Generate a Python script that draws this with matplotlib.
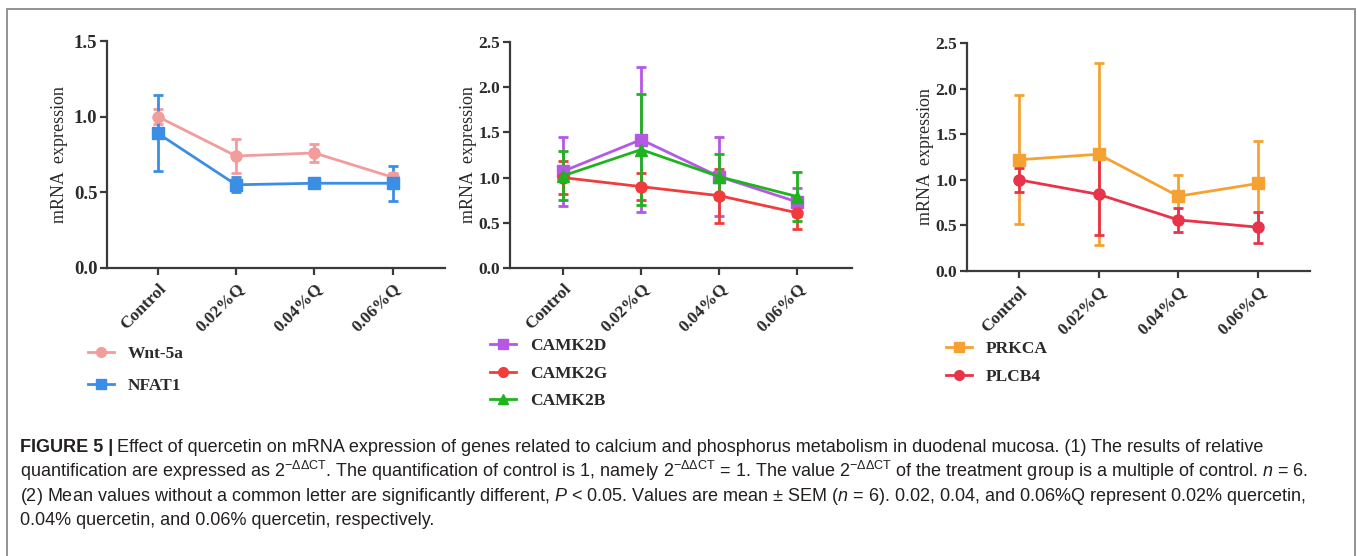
import matplotlib
matplotlib.use("Agg")
import matplotlib.pyplot as plt
from matplotlib import font_manager
from matplotlib.patches import Rectangle
from matplotlib.lines import Line2D

installed = {f.name for f in font_manager.fontManager.ttflist}
cap_font = 'Liberation Sans Narrow' if 'Liberation Sans Narrow' in installed else 'Liberation Sans'

plt.rcParams['mathtext.fontset'] = 'custom'
plt.rcParams['mathtext.rm'] = cap_font
plt.rcParams['mathtext.it'] = cap_font + ':italic'
plt.rcParams['mathtext.bf'] = cap_font + ':bold'

groups = ['Control', '0.02%Q', '0.04%Q', '0.06%Q']

# panel 1
wnt5a = [1.00, 0.74, 0.76, 0.60]
wnt5a_err = [0.05, 0.11, 0.06, 0.03]
nfat1 = [0.89, 0.55, 0.56, 0.56]
nfat1_err = [0.25, 0.05, 0.02, 0.115]

# panel 2
camk2d = [1.07, 1.42, 1.01, 0.73]
camk2d_err = [0.38, 0.80, 0.44, 0.15]
camk2g = [1.00, 0.90, 0.80, 0.61]
camk2g_err = [0.18, 0.15, 0.30, 0.18]
camk2b = [1.02, 1.31, 1.01, 0.79]
camk2b_err = [0.27, 0.61, 0.25, 0.27]

# panel 3
prkca = [1.22, 1.28, 0.82, 0.96]
prkca_err = [0.71, 1.00, 0.23, 0.47]
plcb4 = [1.00, 0.84, 0.56, 0.48]
plcb4_err = [0.13, 0.44, 0.13, 0.17]

W, H = 1357, 556
fig = plt.figure(figsize=(W / 100, H / 100), dpi=100)
fig.patch.set_facecolor('white')

serif = ['Liberation Serif', 'DejaVu Serif']
axcol = '#3a3a3a'
txtcol = '#2a2a2a'


def px_axes(left, right, top, bottom):
    return fig.add_axes([left / W, 1 - bottom / H, (right - left) / W, (bottom - top) / H])


def style(ax, ymax, xlim, yfs, lpad):
    ax.set_ylim(0, ymax)
    ax.set_xlim(*xlim)
    for s in ['top', 'right']:
        ax.spines[s].set_visible(False)
    for s in ['left', 'bottom']:
        ax.spines[s].set_linewidth(1.6)
        ax.spines[s].set_color(axcol)
    ax.set_yticks([0, 0.5, 1.0, 1.5, 2.0, 2.5][:int(ymax / 0.5) + 1])
    ax.set_yticklabels([f'{v:.1f}' for v in ax.get_yticks()], fontfamily=serif,
                       fontsize=yfs, fontweight='bold', color=txtcol)
    ax.set_xticks(range(len(groups)))
    ax.set_xticklabels(groups, rotation=45, ha='right', rotation_mode='anchor',
                       fontfamily=serif, fontsize=12.5, fontweight='bold', color=txtcol)
    ax.tick_params(axis='both', direction='out', length=5, width=1.6, color=axcol, pad=2)
    ax.tick_params(axis='x', pad=4)
    ax.set_ylabel('mRNA  expression', fontfamily=serif, fontsize=13, color=txtcol, labelpad=lpad)
    ax.patch.set_alpha(0)


def series(ax, vals, errs, color, marker, ms=8):
    ax.errorbar(range(len(groups)), vals, yerr=errs, color=color, marker=marker,
                markersize=ms, linewidth=2, elinewidth=2, capsize=3.6, capthick=2)


def legend(ax, items, x, y, spacing):
    handles = [Line2D([], [], color=c, marker=m, markersize=7, linewidth=2) for c, m, _ in items]
    labels = [t for _, _, t in items]
    ax.legend(handles, labels, loc='upper left', bbox_to_anchor=(x / W, 1 - y / H),
              bbox_transform=fig.transFigure, frameon=False,
              prop={'family': serif, 'size': 12.5, 'weight': 'bold'}, handlelength=1.5,
              handletextpad=0.8, labelspacing=spacing, borderpad=0, borderaxespad=0,
              labelcolor=txtcol)


c_wnt, c_nfat = '#f29c9c', '#3b8ee6'
c_d, c_g, c_b = '#b458e6', '#f03c3c', '#1fb31f'
c_pk, c_pl = '#f6a232', '#e8334a'

ax1 = px_axes(107, 445, 41, 268)
series(ax1, wnt5a, wnt5a_err, c_wnt, 'o')
series(ax1, nfat1, nfat1_err, c_nfat, 's')
style(ax1, 1.5, (-0.65, 3.67), 13.5, 4)
legend(ax1, [(c_wnt, 'o', 'Wnt-5a'), (c_nfat, 's', 'NFAT1')], 88, 346, 0.92)

ax2 = px_axes(510, 852, 42, 268)
series(ax2, camk2d, camk2d_err, c_d, 's')
series(ax2, camk2g, camk2g_err, c_g, 'o')
series(ax2, camk2b, camk2b_err, c_b, '^')
style(ax2, 2.5, (-0.68, 3.70), 12.5, 1)
legend(ax2, [(c_d, 's', 'CAMK2D'), (c_g, 'o', 'CAMK2G'), (c_b, '^', 'CAMK2B')], 490, 338, 0.65)

ax3 = px_axes(967, 1310, 43, 271)
series(ax3, prkca, prkca_err, c_pk, 's')
series(ax3, plcb4, plcb4_err, c_pl, 'o')
style(ax3, 2.5, (-0.65, 3.65), 12.5, 1)
legend(ax3, [(c_pk, 's', 'PRKCA'), (c_pl, 'o', 'PLCB4')], 946, 341, 0.67)

# outer frame
fig.add_artist(Rectangle((7 / W, -0.05), (1355 - 7) / W, 1 - 9 / H + 0.05, transform=fig.transFigure,
                         fill=False, edgecolor='#8a8a8a', linewidth=1.3))

# caption
capcol = '#231f20'
cap_lines = [
    'Effect of quercetin on mRNA expression of genes related to calcium and phosphorus metabolism in duodenal mucosa. (1) The results of relative',
    r'quantification are expressed as $2^{-\Delta\Delta\mathrm{CT}}$. The quantification of control is 1, namely $2^{-\Delta\Delta\mathrm{CT}}$ = 1. The value $2^{-\Delta\Delta\mathrm{CT}}$ of the treatment group is a multiple of control. $n$ = 6.',
    r'(2) Mean values without a common letter are significantly different, $P$ < 0.05. Values are mean $\pm$ SEM ($n$ = 6). 0.02, 0.04, and 0.06%Q represent 0.02% quercetin,',
    '0.04% quercetin, and 0.06% quercetin, respectively.',
]
ys = [452, 477, 501, 525]
cs = 12.0
bold = fig.text(20 / W, 1 - ys[0] / H, 'FIGURE 5 |', fontfamily=cap_font, fontweight='bold',
                fontsize=cs, va='baseline', color=capcol)
first = fig.text(0, 1 - ys[0] / H, cap_lines[0], fontfamily=cap_font, fontsize=cs,
                 va='baseline', color=capcol)
rest = [fig.text(20 / W, 1 - y / H, line, fontfamily=cap_font, fontsize=cs, va='baseline', color=capcol)
        for line, y in zip(cap_lines[1:], ys[1:])]

# fit caption size so the first line spans the same width as in the figure
r = fig.canvas.get_renderer()
gap = 4
width = bold.get_window_extent(r).width + gap + first.get_window_extent(r).width
cs = cs * (1268 - 20) / width
for t in [bold, first] + rest:
    t.set_fontsize(cs)
bb = bold.get_window_extent(r)
first.set_x((bb.x1 + gap) / W)

fig.savefig('out.png', dpi=100, facecolor='white')
